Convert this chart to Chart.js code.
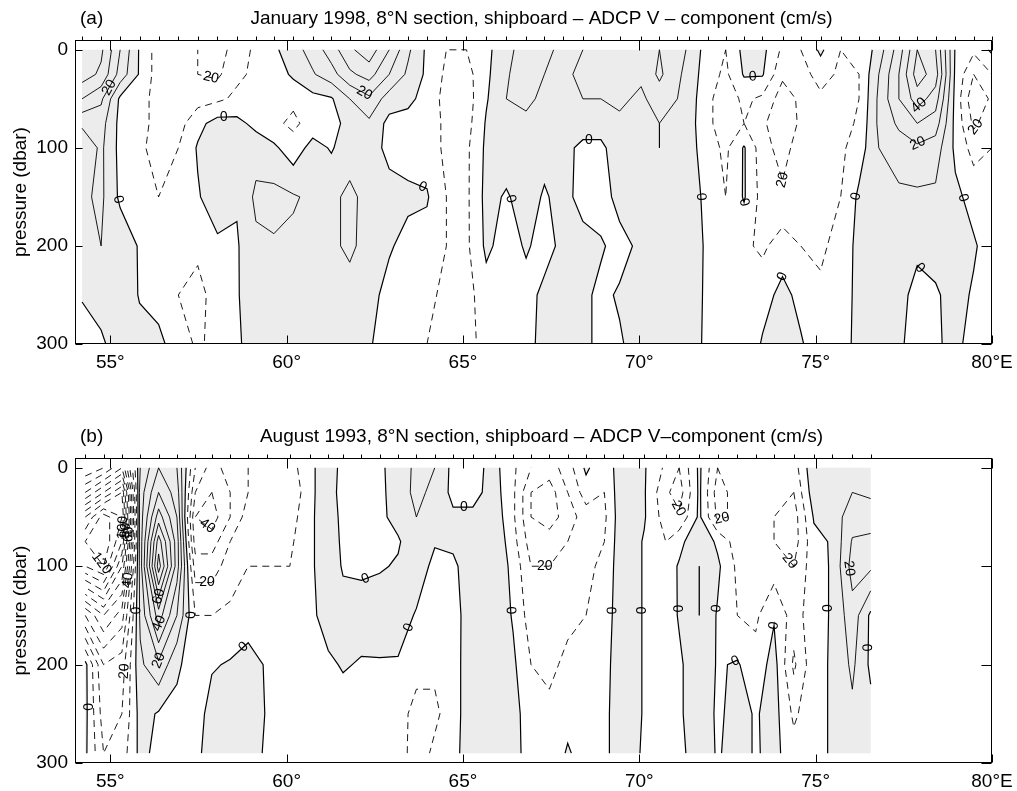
<!DOCTYPE html>
<html lang="en">
<head>
<meta charset="utf-8">
<title>8N section ADCP V</title>
<script src="https://cdn.jsdelivr.net/npm/chart.js@4.4.1/dist/chart.umd.min.js"></script>
<style>
  body { margin: 0; background: #fff; }
  canvas { position: absolute; left: 0; }
  #grafA { top: 0; }
  #grafB { top: 395px; }
</style>
</head>
<body>
<canvas id="grafA" width="1017" height="395"></canvas>
<canvas id="grafB" width="1017" height="396"></canvas>
<script>
const CINZA = '#ececec';
const FONTE = '"Liberation Sans", Arial, Helvetica, sans-serif';

const ticksLon = [55, 60, 65, 70, 75, 80];
const ticksPressao = [0, 100, 200, 300];

const tituloA = 'January 1998, 8°N section, shipboard – ADCP V – component (cm/s)';
const tituloB = 'August 1993, 8°N section, shipboard – ADCP V–component (cm/s)';

// (a) janeiro 1998: estações (°E), profundidades (dbar), velocidade V (cm/s) por nível
const estacoesA = [54.20, 54.74, 55.28, 55.83, 56.37, 56.93, 57.48, 58.04, 58.59, 59.13, 59.64, 60.19, 60.74, 61.27, 61.79, 62.34, 62.91, 63.44, 63.98, 64.53, 65.10, 65.66, 66.23, 66.79, 67.31, 67.83, 68.40, 68.91, 69.44, 70.05, 70.57, 71.08, 71.42, 71.94, 72.45, 72.97, 73.49, 74.06, 74.58, 75.14, 75.71, 76.23, 76.79, 77.36, 77.88, 78.40, 78.96, 79.48, 80.00];
const profA = [0, 25, 50, 75, 100, 150, 200, 250, 300];
const vA000 = [50, 42, 20, -1, -15, -18, -20, -25, -15, -8, -2, 6, 14, 25, 38, 46, 30, 12, -2, -10, -10, -2, 5, 18, 12, 8, 10, 12, 18, 10, 20, 15, 8, -5, -10, 3, 3, -12, -10, 2, -10, -10, 5, 25, 50, 40, -1, -8, 2];
const vA025 = [45, 38, 16, -1, -15, -18, -20, -22, -12, -8, -6, 2, 9, 16, 28, 34, 20, 8, -2, -12, -14, -2, 8, 20, 10, 8, 12, 15, 20, 12, 22, 12, 6, -6, -12, 1, 1, -18, -14, -6, -12, -10, 10, 30, 55, 45, -2, -20, -10];
const vA050 = [30, 22, -2, -8, -12, -16, -14, -12, -8, -8, -8, -8, -3, -1, 10, 18, 5, 2, -3, -14, -15, -1, 10, 12, 8, 6, 10, 10, 12, 8, 15, 10, 5, -8, -15, -8, -12, -25, -18, -12, -15, -10, 12, 30, 45, 35, -3, -28, -18];
const vA075 = [12, 14, -3, -8, -12, -14, -3, 4, 3, -3, -8, -12, -6, -4, 4, 8, -3, -3, -5, -12, -14, 1, 8, 8, 6, 5, 6, 4, 8, 6, 10, 8, 4, -8, -15, -10, -18, -28, -18, -15, -15, -8, 12, 22, 30, 25, -3, -22, -14];
const vA100 = [2, 12, -3, -8, -14, -10, 1, 8, 10, 6, 2, -6, 4, -1, 6, 5, -3, -4, -5, -12, -12, 2, 5, 6, 3, 4, -3, -2, 5, 5, 10, 8, 4, -6, -12, 1, -16, -24, -15, -15, -12, -5, 10, 15, 18, 15, -2, -14, -10];
const vA150 = [8, 12, -2, -6, -10, -8, -1, 6, 1, 12, 13, 11, 8, 8, 12, 7, 4, 2, 1, -10, -12, 3, -1, 4, -1, 3, -3, -4, 3, 4, 8, 10, 5, -3, -10, 1, -14, -18, -12, -16, -10, 2, 8, 8, 8, 8, 2, -3, -1];
const vA200 = [5, 10, 7, -1, -6, -6, -8, -2, -1, 8, 9, 8, 8, 8, 12, 6, 1, -3, -4, -10, -12, 2, -4, 1, -3, 2, 3, 1, -3, 2, 6, 8, 6, -2, -8, -8, -12, -5, -10, -12, -6, 3, 8, 5, 2, 3, 4, 1, -4];
const vA250 = [1, 5, 10, -1, -3, -10, -13, -6, -1, 7, 7, 6, 6, 6, 6, 3, -3, -6, -8, -12, -14, -4, -6, -3, 2, 4, 2, -2, 1, 3, 5, 6, 5, -2, -8, -10, -4, 3, -3, -8, -5, 3, 6, 3, -3, -1, 3, -1, -5];
const vA300 = [-6, -2, 6, 5, 2, -4, -12, -6, -1, 3, 4, 2, 3, 4, 3, 1, -5, -8, -10, -12, -12, -8, -8, -4, 4, 5, 3, -3, -1, 4, 5, 5, 4, -2, -8, -8, 1, 5, 1, -6, -4, 3, 5, 2, -5, -1, 2, -3, -5];

// (b) agosto 1993
const estacoesB = [54.29, 54.81, 55.33, 55.85, 56.37, 56.89, 57.41, 57.88, 58.40, 58.91, 59.44, 60.09, 60.66, 61.18, 61.60, 62.12, 62.64, 63.16, 63.68, 64.20, 64.72, 65.28, 65.90, 66.42, 66.93, 67.45, 67.97, 68.49, 69.01, 69.53, 70.14, 70.75, 71.13, 71.70, 72.22, 72.78, 73.30, 73.82, 74.38, 74.95, 75.47, 76.04, 76.56];
const profB = [0, 25, 50, 75, 100, 150, 200, 250, 290];
const vB000 = [-30, -40, -60, 10, 30, 20, -20, -35, -25, -20, -10, -15, -2, 5, -3, -5, -2, 5, 12, 10, -3, -3, 3, -8, -20, -25, -15, 2, -8, 8, 1, -12, -20, 2, -20, -15, -15, -15, -15, 8, 8, 8, 5];
const vB025 = [-60, -80, -100, 15, 40, 25, -30, -40, -30, -20, -12, -20, -2, 5, -4, -6, -3, 6, 12, 8, -3, -3, 4, -8, -30, -35, -20, -5, -10, 8, 1, -18, -25, 2, -25, -15, -18, -18, -20, 6, 8, 10, 8];
const vB050 = [-100, -125, -110, 15, 55, 30, -40, -45, -30, -15, -15, -15, -2, 6, -3, -4, -2, 3, 10, 5, 2, 2, 6, -8, -30, -35, -25, -15, -12, 8, 1, -15, -18, 2, -22, -18, -20, -20, -25, 1, 5, 15, 16];
const vB075 = [-120, -130, -100, 15, 75, 35, -35, -35, -20, -15, -12, -12, -2, 6, -2, -3, -1, -1, 6, 1, 2, 6, 8, -6, -25, -25, -20, -15, -10, 8, -1, -10, -3, 8, -2, -15, -18, -20, -25, -3, 1, 21, 22];
const vB100 = [-110, -120, -80, 15, 85, 35, -25, -25, -15, -10, -10, -10, -2, 6, -1, -2, -1, 1, 6, -3, -2, 6, 8, -3, -20, -20, -20, -12, -8, 8, -1, -5, 1, 10, 2, -12, -15, -15, -20, -4, 1, 24, 22];
const vB150 = [-40, -60, -45, 12, 45, 20, -10, -10, -8, -5, -8, -5, -3, 5, 4, 5, 6, 5, -1, -5, -4, 6, 8, -1, -15, -18, -12, -10, -6, 8, -1, -6, 1, 10, -1, -10, -12, -1, -15, -4, 1, 16, -2];
const vB200 = [3, -30, -25, 8, 18, 2, -6, -1, 1, 4, -1, -3, -2, -2, 1, -1, -1, -1, -5, -8, -5, 8, 8, 2, -10, -12, -8, -6, -4, 8, -1, -6, -2, 8, -1, 1, -6, 4, -22, -3, 1, 12, -2];
const vB250 = [3, -25, -20, 4, -1, -3, -5, 4, 8, 8, -1, -8, -5, -6, -5, -5, -5, -4, -15, -12, -5, 8, 8, 4, -6, -8, -3, -5, -3, 8, -1, -6, -2, 8, -2, 4, -1, 4, -12, -3, 1, 8, 3];
const vB290 = [2, -20, -15, 3, -3, -5, -3, 5, 8, 6, -2, -10, -8, -6, -5, -6, -5, -5, -15, -8, -4, 8, 8, 4, -5, -6, 1, -4, -3, 8, -2, -5, -3, 6, -1, 4, -1, 3, -6, -3, 1, 6, 2];

const gradeA = { lons: estacoesA, profs: profA, z: [vA000, vA025, vA050, vA075, vA100, vA150, vA200, vA250, vA300] };
const gradeB = { lons: estacoesB, profs: profB, z: [vB000, vB025, vB050, vB075, vB100, vB150, vB200, vB250, vB290] };

function cruzamento(g, aresta, nivel) {
  const [tipo, j, i] = aresta;
  if (tipo === 'h') {
    const a = g.z[j][i], b = g.z[j][i + 1];
    const t = (nivel - a) / (b - a);
    return [g.lons[i] + t * (g.lons[i + 1] - g.lons[i]), g.profs[j]];
  }
  const a = g.z[j][i], b = g.z[j + 1][i];
  const t = (nivel - a) / (b - a);
  return [g.lons[i], g.profs[j] + t * (g.profs[j + 1] - g.profs[j])];
}

// marching squares: devolve as isolinhas de um nível já encadeadas
function tracarNivel(g, nivel) {
  const dentro = v => v >= nivel;
  const segs = [];
  for (let j = 0; j < g.profs.length - 1; j++) {
    for (let i = 0; i < g.lons.length - 1; i++) {
      const a = g.z[j][i], b = g.z[j][i + 1], c = g.z[j + 1][i + 1], d = g.z[j + 1][i];
      const ar = [];
      if (dentro(a) !== dentro(b)) ar.push(['h', j, i]);
      if (dentro(b) !== dentro(c)) ar.push(['v', j, i + 1]);
      if (dentro(d) !== dentro(c)) ar.push(['h', j + 1, i]);
      if (dentro(a) !== dentro(d)) ar.push(['v', j, i]);
      if (ar.length === 2) segs.push(ar);
      else if (ar.length === 4) {
        if (dentro((a + b + c + d) / 4) === dentro(a)) segs.push([ar[0], ar[1]], [ar[2], ar[3]]);
        else segs.push([ar[3], ar[0]], [ar[1], ar[2]]);
      }
    }
  }
  const chave = e => e.join(',');
  const mapa = new Map();
  segs.forEach((s, k) => s.forEach(e => {
    const ch = chave(e);
    if (!mapa.has(ch)) mapa.set(ch, []);
    mapa.get(ch).push(k);
  }));
  const usado = segs.map(() => false);
  const estender = cadeia => {
    for (;;) {
      const ch = chave(cadeia[cadeia.length - 1]);
      const k = (mapa.get(ch) || []).find(m => !usado[m]);
      if (k === undefined) return;
      usado[k] = true;
      cadeia.push(chave(segs[k][0]) === ch ? segs[k][1] : segs[k][0]);
    }
  };
  const linhas = [];
  segs.forEach((s, k) => {
    if (usado[k]) return;
    usado[k] = true;
    const cadeia = [s[0], s[1]];
    estender(cadeia);
    cadeia.reverse();
    estender(cadeia);
    linhas.push(cadeia.map(e => cruzamento(g, e, nivel)));
  });
  return linhas;
}

// polígonos das células onde V >= 0 (mesma regra de sela do contorno zero)
function areasPositivas(g) {
  const pols = [];
  const corte = (p, q) => {
    const t = -p[2] / (q[2] - p[2]);
    return [p[0] + t * (q[0] - p[0]), p[1] + t * (q[1] - p[1])];
  };
  for (let j = 0; j < g.profs.length - 1; j++) {
    for (let i = 0; i < g.lons.length - 1; i++) {
      const cantos = [
        [g.lons[i], g.profs[j], g.z[j][i]],
        [g.lons[i + 1], g.profs[j], g.z[j][i + 1]],
        [g.lons[i + 1], g.profs[j + 1], g.z[j + 1][i + 1]],
        [g.lons[i], g.profs[j + 1], g.z[j + 1][i]]
      ];
      const pos = cantos.map(c => c[2] >= 0);
      const sela = pos[0] === pos[2] && pos[1] === pos[3] && pos[0] !== pos[1];
      const centro = (cantos[0][2] + cantos[1][2] + cantos[2][2] + cantos[3][2]) / 4;
      if (sela && centro < 0) {
        for (let k = 0; k < 4; k++) {
          if (!pos[k]) continue;
          const ant = cantos[(k + 3) % 4], p = cantos[k], prox = cantos[(k + 1) % 4];
          pols.push([corte(ant, p), p, corte(p, prox)]);
        }
        continue;
      }
      const pol = [];
      for (let k = 0; k < 4; k++) {
        const p = cantos[k], q = cantos[(k + 1) % 4];
        if (pos[k]) pol.push(p);
        if (pos[k] !== pos[(k + 1) % 4]) pol.push(corte(p, q));
      }
      if (pol.length > 2) pols.push(pol);
    }
  }
  return pols;
}

function pluginSecao(grade, estacoes, letra, titulo) {
  return {
    id: 'secao',
    afterDraw(chart) {
      const { ctx, chartArea: ar, scales: { x, y } } = chart;
      const px = p => [x.getPixelForValue(p[0]), y.getPixelForValue(p[1])];

      ctx.save();
      ctx.beginPath();
      ctx.rect(ar.left, ar.top, ar.right - ar.left, ar.bottom - ar.top);
      ctx.clip();

      ctx.beginPath();
      areasPositivas(grade).forEach(pol => {
        pol.forEach((p, k) => {
          const [X, Y] = px(p);
          if (k) ctx.lineTo(X, Y); else ctx.moveTo(X, Y);
        });
        ctx.closePath();
      });
      ctx.fillStyle = CINZA;
      ctx.fill();

      const todos = grade.z.flat();
      const vmin = Math.min(...todos), vmax = Math.max(...todos);
      const rotulos = [];
      ctx.strokeStyle = '#000';
      for (let nivel = -150; nivel <= 150; nivel += 10) {
        if (nivel <= vmin || nivel >= vmax) continue;
        tracarNivel(grade, nivel).forEach(linha => {
          const pts = linha.map(px);
          ctx.beginPath();
          pts.forEach(([X, Y], k) => { if (k) ctx.lineTo(X, Y); else ctx.moveTo(X, Y); });
          ctx.setLineDash(nivel < 0 ? [7, 5] : []);
          ctx.lineWidth = nivel === 0 ? 1.2 : 0.9;
          ctx.stroke();

          if (nivel % 20 !== 0) return;
          const acum = [0];
          for (let k = 1; k < pts.length; k++) {
            acum.push(acum[k - 1] + Math.hypot(pts[k][0] - pts[k - 1][0], pts[k][1] - pts[k - 1][1]));
          }
          const total = acum[acum.length - 1];
          if (total < 70) return;
          const meio = total / 2;
          let k = 1;
          while (acum[k] < meio) k++;
          const [x1, y1] = pts[k - 1], [x2, y2] = pts[k];
          const t = (meio - acum[k - 1]) / ((acum[k] - acum[k - 1]) || 1);
          let ang = Math.atan2(y2 - y1, x2 - x1);
          if (ang > Math.PI / 2) ang -= Math.PI;
          if (ang < -Math.PI / 2) ang += Math.PI;
          rotulos.push({ x: x1 + t * (x2 - x1), y: y1 + t * (y2 - y1), ang, txt: String(Math.abs(nivel)) });
        });
      }
      ctx.setLineDash([]);
      ctx.fillStyle = '#000';
      ctx.font = '14px ' + FONTE;
      ctx.textAlign = 'center';
      ctx.textBaseline = 'middle';
      rotulos.forEach(r => {
        ctx.save();
        ctx.translate(r.x, r.y);
        ctx.rotate(r.ang);
        ctx.fillText(r.txt, 0, 0);
        ctx.restore();
      });
      ctx.restore();

      // moldura, marcas e títulos
      ctx.save();
      ctx.strokeStyle = '#000';
      ctx.lineWidth = 1;
      const L = Math.round(ar.left) + 0.5, R = Math.round(ar.right) - 0.5;
      const T = Math.round(ar.top) + 0.5, B = Math.round(ar.bottom) - 0.5;
      ctx.strokeRect(L, T, R - L, B - T);
      ctx.beginPath();
      ticksLon.forEach(v => {
        const X = Math.round(x.getPixelForValue(v)) + 0.5;
        ctx.moveTo(X, B); ctx.lineTo(X, B - 8);
        ctx.moveTo(X, T); ctx.lineTo(X, T + 10);
      });
      ticksPressao.forEach(v => {
        const Y = Math.round(y.getPixelForValue(v)) + 0.5;
        ctx.moveTo(L, Y); ctx.lineTo(L + 7, Y);
        ctx.moveTo(R, Y); ctx.lineTo(R - 10, Y);
      });
      estacoes.forEach(v => {
        const X = Math.round(x.getPixelForValue(v)) + 0.5;
        ctx.moveTo(X, T); ctx.lineTo(X, T - 4);
      });
      ctx.stroke();
      ctx.font = '19px ' + FONTE;
      ctx.fillStyle = '#000';
      ctx.textBaseline = 'middle';
      ctx.textAlign = 'left';
      ctx.fillText(letra, ar.left + 5, ar.top - 21);
      ctx.textAlign = 'center';
      ctx.fillText(titulo, (ar.left + ar.right) / 2 + 8, ar.top - 21);
      ctx.restore();
    }
  };
}

function criarSecao(id, grade, estacoes, letra, titulo, topo, alturaEixoX) {
  const fonteEixo = { family: FONTE, size: 19 };
  return new Chart(document.getElementById(id), {
    type: 'scatter',
    data: { datasets: [] },
    options: {
      responsive: false,
      animation: false,
      devicePixelRatio: 1,
      layout: { padding: { top: topo, right: 25, left: 0, bottom: 0 } },
      plugins: { legend: { display: false }, tooltip: { enabled: false } },
      scales: {
        x: {
          type: 'linear', min: 54, max: 80,
          grid: { display: false, drawTicks: false },
          border: { display: false },
          afterBuildTicks: s => { s.ticks = ticksLon.map(v => ({ value: v })); },
          afterFit: s => { s.height = alturaEixoX; s.paddingLeft = 0; s.paddingRight = 0; },
          ticks: {
            color: '#000', font: fonteEixo, padding: 7, maxRotation: 0, autoSkip: false,
            callback: v => (v === 80 ? '80°E' : v + '°')
          }
        },
        y: {
          type: 'linear', min: -10, max: 300, reverse: true,
          grid: { display: false, drawTicks: false },
          border: { display: false },
          afterBuildTicks: s => { s.ticks = ticksPressao.map(v => ({ value: v })); },
          afterFit: s => { s.width = 75; s.paddingTop = 0; s.paddingBottom = 0; },
          ticks: { color: '#000', font: fonteEixo, padding: 7 },
          title: {
            display: true, text: 'pressure (dbar)', color: '#000', font: fonteEixo,
            padding: { top: 9, bottom: 0 }
          }
        }
      }
    },
    plugins: [pluginSecao(grade, estacoes, letra, titulo)]
  });
}

criarSecao('grafA', gradeA, estacoesA, '(a)', tituloA, 40, 51);
criarSecao('grafB', gradeB, estacoesB, '(b)', tituloB, 63, 28);
</script>
</body>
</html>
